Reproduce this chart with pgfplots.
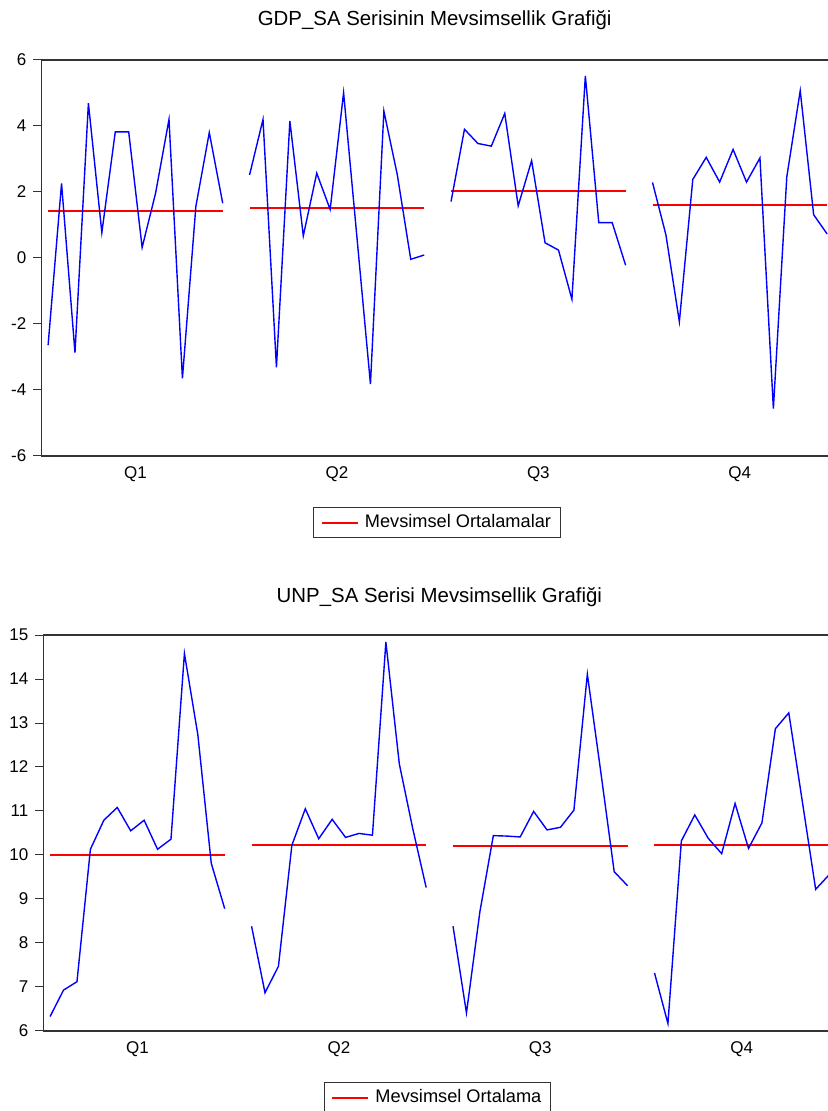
\documentclass[border=0pt]{standalone}
\usepackage{fontspec}
\setmainfont{Liberation Sans}
\usepackage{pgfplots}
\pgfplotsset{compat=1.18}
\definecolor{meanred}{RGB}{255,0,0}
\begin{document}
\begin{tikzpicture}
\pgfplotsset{
  seas/.style={
    scale only axis, width=396.2pt, height=198pt,
    xmin=-0.5, xmax=58.5,
    xtick={6.5,21.5,36.5,51.5}, xticklabels={Q1,Q2,Q3,Q4},
    xtick style={draw=none},
    xticklabel style={yshift=2.3pt},
    tick align=outside, ytick pos=left, xtick pos=bottom,
    major tick length=4pt,
    ytick style={black!80, line width=0.5pt},
    axis line style={black!80, line width=0.65pt},
    tick label style={font=\fontsize{8.5}{10}\selectfont},
    unbounded coords=jump,
    legend style={draw=black!80, line width=0.5pt, font=\fontsize{9.1}{11}\selectfont,
      anchor=north west, inner xsep=3.5pt, inner ysep=2.5pt,
      nodes={inner xsep=1pt, inner ysep=1pt}},
    legend cell align=left,
    legend image code/.code={\draw[##1] (0pt,0pt) -- (17.8pt,0pt);},
  },
}
\begin{axis}[seas, at={(0pt,0pt)}, anchor=north west,
  ymin=-6, ymax=6, ytick={-6,-4,-2,0,2,4,6}, yticklabels={-6,-4,-2,0,2,4,6},
  legend style={at={(0.3433,0)}, yshift=-25.5pt}]
\addplot[draw=meanred, line width=1pt] table[row sep=\\] {
x y\\
0 1.41\\ 13 1.41\\ 14 nan\\
15 1.51\\ 28 1.51\\ 29 nan\\
30 2.02\\ 43 2.02\\ 44 nan\\
45 1.60\\ 58 1.60\\
};
\addlegendentry{\hspace{2.2pt}Mevsimsel Ortalamalar\hspace{-1.5pt}}
\addplot[draw=blue, line width=0.7pt, forget plot] table[row sep=\\] {
x y\\
0 -2.64\\ 1 2.26\\ 2 -2.87\\ 3 4.69\\ 4 0.77\\ 5 3.82\\ 6 3.82\\ 7 0.32\\ 8 1.96\\ 9 4.20\\ 10 -3.65\\ 11 1.56\\ 12 3.80\\ 13 1.66\\
14 nan\\
15 2.52\\ 16 4.20\\ 17 -3.31\\ 18 4.15\\ 19 0.67\\ 20 2.57\\ 21 1.47\\ 22 5.01\\ 23 0.60\\ 24 -3.82\\ 25 4.45\\ 26 2.52\\ 27 -0.04\\ 28 0.09\\
29 nan\\
30 1.71\\ 31 3.90\\ 32 3.47\\ 33 3.39\\ 34 4.38\\ 35 1.58\\ 36 2.95\\ 37 0.46\\ 38 0.24\\ 39 -1.25\\ 40 5.52\\ 41 1.07\\ 42 1.07\\ 43 -0.22\\
44 nan\\
45 2.29\\ 46 0.70\\ 47 -1.93\\ 48 2.38\\ 49 3.05\\ 50 2.30\\ 51 3.29\\ 52 2.30\\ 53 3.03\\ 54 -4.56\\ 55 2.46\\ 56 5.07\\ 57 1.31\\ 58 0.73\\
};
\end{axis}
\begin{axis}[seas, at={(1pt,-287.5pt)}, anchor=north west,
  ymin=6, ymax=15, ytick={6,7,...,15}, yticklabels={6,7,8,9,10,11,12,13,14,15},
  legend style={at={(0.3541,0)}, yshift=-25.5pt}]
\addplot[draw=meanred, line width=1pt] table[row sep=\\] {
x y\\
0 10.00\\ 13 10.00\\ 14 nan\\
15 10.22\\ 28 10.22\\ 29 nan\\
30 10.21\\ 43 10.21\\ 44 nan\\
45 10.22\\ 58 10.22\\
};
\addlegendentry{\hspace{2.2pt}Mevsimsel Ortalama\hspace{-1.5pt}}
\addplot[draw=blue, line width=0.7pt, forget plot] table[row sep=\\] {
x y\\
0 6.33\\ 1 6.93\\ 2 7.12\\ 3 10.13\\ 4 10.79\\ 5 11.08\\ 6 10.55\\ 7 10.79\\ 8 10.13\\ 9 10.36\\ 10 14.58\\ 11 12.73\\ 12 9.81\\ 13 8.78\\
14 nan\\
15 8.38\\ 16 6.87\\ 17 7.47\\ 18 10.22\\ 19 11.05\\ 20 10.37\\ 21 10.81\\ 22 10.40\\ 23 10.49\\ 24 10.45\\ 25 14.84\\ 26 12.07\\ 27 10.60\\ 28 9.26\\
29 nan\\
30 8.38\\ 31 6.41\\ 32 8.71\\ 33 10.44\\ 34 10.43\\ 35 10.41\\ 36 10.99\\ 37 10.57\\ 38 10.63\\ 39 11.02\\ 40 14.11\\ 41 11.89\\ 42 9.62\\ 43 9.30\\
44 nan\\
45 7.32\\ 46 6.17\\ 47 10.32\\ 48 10.91\\ 49 10.38\\ 50 10.03\\ 51 11.17\\ 52 10.15\\ 53 10.73\\ 54 12.87\\ 55 13.23\\ 56 11.23\\ 57 9.22\\ 58 9.55\\
};
\end{axis}
\node[anchor=base, font=\fontsize{10.2}{12}\selectfont] at (196.65pt,17.35pt) {GDP\_SA Serisinin Mevsimsellik Grafiği};
\node[anchor=base, font=\fontsize{10.2}{12}\selectfont] at (199pt,-271.2pt) {UNP\_SA Serisi Mevsimsellik Grafiği};
\pgfresetboundingbox
\path (-20.7pt,30pt) rectangle (392.8pt,-525.5pt);
\end{tikzpicture}
\end{document}
